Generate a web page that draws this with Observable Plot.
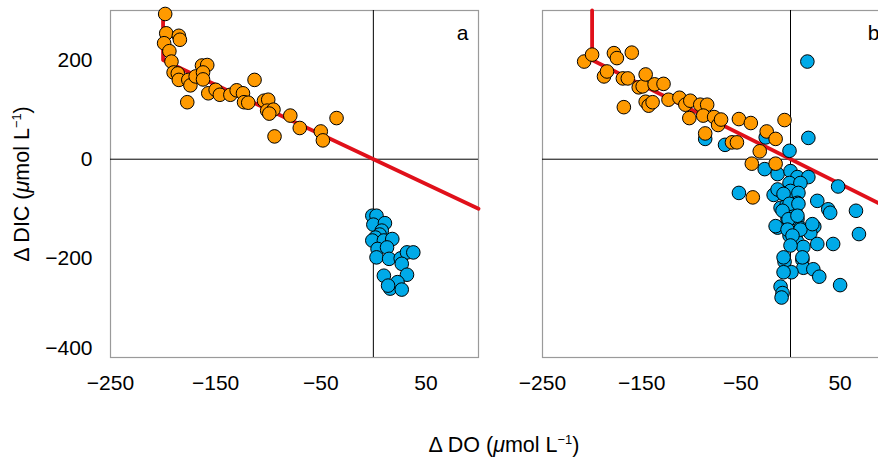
<!DOCTYPE html>
<html>
<head>
<meta charset="utf-8">
<script src="https://cdn.jsdelivr.net/npm/d3@7"></script>
<script src="https://cdn.jsdelivr.net/npm/@observablehq/plot@0.6"></script>
<style>
  html, body { margin: 0; padding: 0; background: white; }
  body { width: 878px; height: 462px; overflow: hidden; position: relative;
         font-family: "Liberation Sans", Arial, Helvetica, sans-serif; color: black; }
  .title { position: absolute; white-space: nowrap; font-size: 21.5px; line-height: 1; }
  .sup { font-size: 0.6em; position: relative; top: -0.62em; }
</style>
</head>
<body>
<div class="title" id="ylab" style="left:23px; top:184px; transform: translate(-50%,-50%) rotate(-90deg);">Δ DIC (<i>μ</i>mol L<span class="sup">−1</span>)</div>
<div id="pa" style="position:absolute; left:0; top:0;"></div>
<div id="pb" style="position:absolute; left:490px; top:0;"></div>
<div class="title" id="xlab" style="left:504px; top:446px; transform: translate(-50%,-50%);">Δ DO (<i>μ</i>mol L<span class="sup">−1</span>)</div>
<script>
// ---- data (ΔDO, ΔDIC in µmol L-1) ----
const xTicks = [-250, -150, -50, 50];
const yTicks = [200, 0, -200];
const yTickBottom = [-400];
const panelLabels = ["a", "b"];

// 1:1 reference line with vertical limit at ΔDO = -200
const refLine = [[-200, 300], [-200, 200], [100, -100]];

const aOrange = [
  [-198,293],[-197,254],[-185,249],[-184,241],[-199,234],[-194,218],[-192,197],[-190,175],
  [-186,173],[-185,160],[-176,160],[-174,149],[-177,115],[-169,167],[-163,189],[-158,190],
  [-162,175],[-162,161],[-157,133],[-150,140],[-146,130],[-136,130],[-130,139],[-124,133],
  [-123,115],[-119,114],[-113,160],[-104,118],[-100,120],[-101,98],[-95,100],[-99,92],
  [-79,88],[-70,63],[-94,46],[-50,56],[-48,38],[-35,83]
];
const aBlue = [
  [-1,-114],[3,-114],[0,-132],[11,-129],[8,-144],[6,-152],[2,-158],[-1,-164],[10,-164],
  [18,-161],[4,-181],[13,-178],[3,-198],[15,-201],[26,-200],[32,-188],[38,-188],[27,-211],
  [10,-235],[32,-233],[16,-261],[23,-248],[27,-263],[14,-255]
];
const bOrange = [
  [-208,197],[-200,211],[-178,214],[-175,204],[-160,215],[-188,167],[-185,177],[-169,163],
  [-164,163],[-168,105],[-153,145],[-149,147],[-146,171],[-137,151],[-128,152],[-146,116],
  [-143,108],[-139,115],[-123,120],[-112,124],[-106,110],[-101,118],[-102,83],[-91,110],
  [-84,110],[-88,88],[-77,85],[-73,69],[-70,80],[-86,52],[-59,34],[-54,34],[-52,81],
  [-40,73],[-24,56],[-15,41],[-6,79],[-31,16],[-39,-9],[-15,-9],[-38,-77]
];
const bBlue = [
  [-86,41],[-66,29],[17,197],[18,43],[-1,17],[-25,44],[-26,-20],[-13,-30],[0,-24],[7,-36],
  [18,-36],[-1,-48],[10,-48],[48,-55],[-52,-68],[-17,-72],[-8,-68],[0,-64],[8,-68],[27,-84],
  [38,-101],[40,-108],[66,-104],[-10,-98],[-4,-93],[7,-88],[5,-106],[-3,-121],[-13,-138],
  [7,-121],[10,-139],[24,-136],[20,-149],[-1,-154],[5,-157],[7,-167],[13,-177],[27,-171],
  [43,-171],[69,-151],[-6,-207],[12,-203],[13,-219],[23,-222],[1,-228],[-7,-228],[29,-237],
  [50,-254],[-10,-257],[-8,-270],[-9,-279],[-13,-61],[-7,-70],[-1,-90],[-8,-104],[8,-90],
  [-2,-121],[7,-114],[-15,-135],[-3,-142],[10,-142],[22,-131],[2,-154],[0,-174],[-7,-198],
  [12,-198]
];

// ---- styles ----
const ORANGE = "#FF9A00";
const BLUE = "#00AAE8";
const RED = "#E0101A";
const FONT = "'Liberation Sans', Arial, Helvetica, sans-serif";

function panel({orange, blue, label, width, marginLeft, marginRight, showY}) {
  const marks = [
    Plot.frame({stroke: "#9a9a9a", strokeWidth: 1.2}),
    Plot.ruleX([0], {stroke: "black", strokeWidth: 1}),
    Plot.ruleY([0], {stroke: "black", strokeWidth: 1}),
    Plot.line(refLine, {x: d => d[0], y: d => d[1], stroke: RED, strokeWidth: 3.8}),
    Plot.dot(blue, {x: d => d[0], y: d => d[1], r: 6.8, fill: BLUE, stroke: "black", strokeWidth: 1}),
    Plot.dot(orange, {x: d => d[0], y: d => d[1], r: 6.8, fill: ORANGE, stroke: "black", strokeWidth: 1}),
    Plot.axisX({ticks: xTicks, tickSize: 0, tickPadding: 18, label: null, fontSize: 21}),
    Plot.text([label], {frameAnchor: "top-right", dx: -16, dy: 23, text: d => d,
      textAnchor: "middle", lineAnchor: "middle", fontSize: 21, fill: "black"})
  ];
  if (showY) {
    marks.push(Plot.axisY({ticks: yTicks, tickSize: 0, tickPadding: 18, label: null, fontSize: 21}));
    marks.push(Plot.axisY({ticks: yTickBottom, tickSize: 0, tickPadding: 18, label: null, fontSize: 21, dy: -9}));
  }
  return Plot.plot({
    width, height: 400,
    marginLeft, marginRight, marginTop: 10, marginBottom: 43,
    style: {fontFamily: FONT, fontSize: "21px", background: "transparent", maxWidth: "none", overflow: "visible", color: "black"},
    x: {domain: [-250, 100], axis: null},
    y: {domain: [-400, 300], axis: null},
    marks
  });
}

document.getElementById("pa").append(panel({
  orange: aOrange, blue: aBlue, label: panelLabels[0],
  width: 490, marginLeft: 110, marginRight: 12, showY: true
}));
document.getElementById("pb").append(panel({
  orange: bOrange, blue: bBlue, label: panelLabels[1],
  width: 410, marginLeft: 52, marginRight: 10.8, showY: false
}));
</script>
</body>
</html>
